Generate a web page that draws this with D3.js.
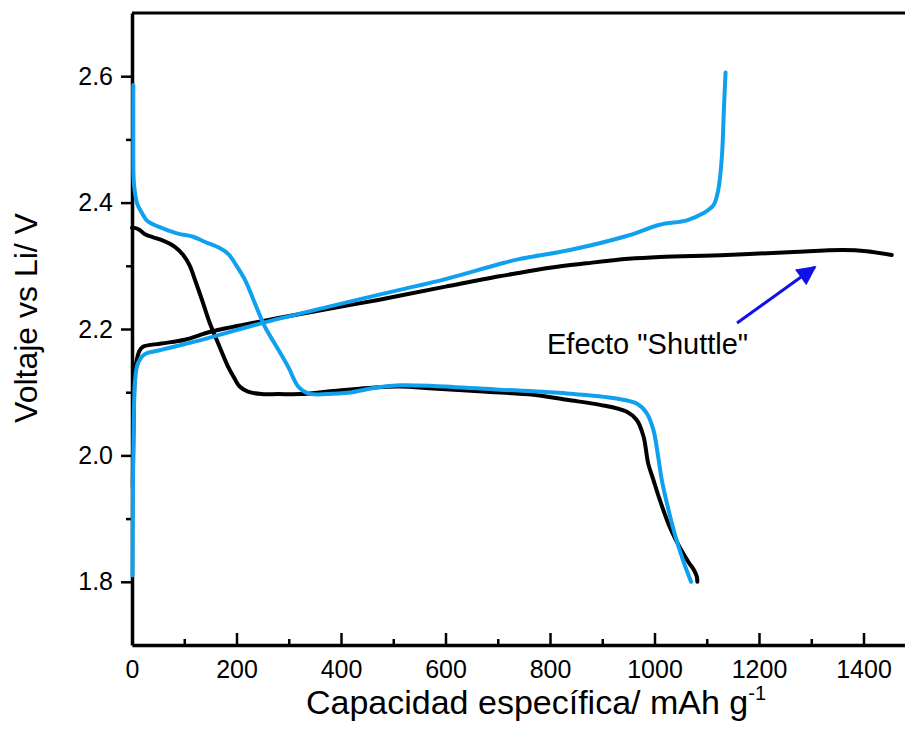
<!DOCTYPE html>
<html>
<head>
<meta charset="utf-8">
<script src="https://cdn.jsdelivr.net/npm/d3@7"></script>
<style>
  body { margin: 0; background: #fff; }
  svg { display: block; font-family: "Liberation Sans", Arial, sans-serif; }
  .axis path, .axis line { stroke: #000; }
</style>
</head>
<body>
<div id="graphic"></div>
<script>
// capacity (mAh/g), voltage (V)
var blackDischarge = [[0,2.360],[5,2.360],[14,2.357],[27,2.349],[56,2.341],[82,2.330],[98,2.317],
  [110,2.301],[123,2.272],[136,2.241],[149,2.209],[165,2.177],[184,2.140],[196,2.122],[206,2.109],
  [222,2.101],[248,2.097],[280,2.097],[323,2.097],[375,2.101],[471,2.108],[513,2.109],[577,2.106],
  [672,2.101],[768,2.096],[832,2.088],[896,2.080],[947,2.069],[966,2.056],[979,2.030],[988,1.987],
  [998,1.961],[1010,1.930],[1030,1.885],[1050,1.852],[1066,1.830],[1076,1.818],[1081,1.808],[1082,1.800]];

var blackCharge = [[1.5,1.95],[3,2.05],[5,2.12],[8,2.146],[14,2.165],[21,2.172],[56,2.177],[101,2.183],
  [152,2.196],[247,2.212],[343,2.227],[471,2.246],[600,2.267],[700,2.283],[743,2.289],[800,2.297],
  [870,2.304],[950,2.311],[1010,2.314],[1138,2.317],[1266,2.322],[1361,2.325],[1406,2.323],[1454,2.317]];

var blueDischarge = [[2.5,2.586],[2.5,2.50],[3,2.44],[5,2.420],[10,2.398],[18,2.385],[28,2.372],
  [37,2.367],[60,2.359],[88,2.351],[117,2.346],[139,2.338],[168,2.328],[185,2.318],[197,2.304],
  [216,2.278],[235,2.241],[254,2.204],[273,2.177],[299,2.140],[318,2.109],[337,2.098],[375,2.097],
  [413,2.099],[471,2.108],[513,2.111],[577,2.110],[704,2.104],[832,2.098],[927,2.090],[966,2.082],
  [985,2.067],[998,2.040],[1007,1.998],[1014,1.961],[1025,1.920],[1040,1.872],[1055,1.833],[1070,1.800]];

var blueCharge = [[1,1.81],[1.5,1.90],[2.5,2.00],[4,2.08],[6,2.12],[11.5,2.146],[24,2.160],[56,2.167],
  [120,2.180],[247,2.209],[375,2.235],[471,2.254],[600,2.279],[700,2.302],[743,2.311],[838,2.325],
  [950,2.348],[1010,2.365],[1062,2.372],[1093,2.383],[1113,2.396],[1122,2.420],[1129,2.473],
  [1133,2.552],[1136,2.606]];

var xTicks = [0, 200, 400, 600, 800, 1000, 1200, 1400];
var xMinorTicks = [100, 300, 500, 700, 900, 1100, 1300, 1500];
var yTicks = [1.8, 2.0, 2.2, 2.4, 2.6];
var yMinorTicks = [1.9, 2.1, 2.3, 2.5];

// arrow: from label to the flat charge tail
var shuttleArrow = [[1158, 2.2095], [1307, 2.298]];
var shuttleLabel = 'Efecto "Shuttle"';

var width = 905,
    height = 740;

var margin = {top: 13, left: 132, bottom: 95};

var svg = d3.select("#graphic")
    .append("svg")
    .attr("width", width)
    .attr("height", height);

var x = d3.scaleLinear()
    .domain([0, 1500])
    .range([margin.left, margin.left + 1500 * 0.5225]);

var y = d3.scaleLinear()
    .domain([1.7, 2.7])
    .range([height - margin.bottom, margin.top]);

// top frame line
svg.append("line")
    .attr("x1", x(0)).attr("x2", x(1500))
    .attr("y1", y(2.7)).attr("y2", y(2.7))
    .attr("stroke", "#000").attr("stroke-width", 3);
svg.append("line")
    .attr("x1", x(1500)).attr("x2", x(1500))
    .attr("y1", y(2.7)).attr("y2", y(1.7))
    .attr("stroke", "#000").attr("stroke-width", 3);

// minor ticks
svg.append("g")
    .attr("class", "axis")
    .attr("transform", "translate(0," + y(1.7) + ")")
    .call(d3.axisBottom(x).tickValues(xMinorTicks).tickSizeInner(-6).tickSizeOuter(0).tickFormat(""))
    .call(g => g.select(".domain").remove())
    .selectAll("line").attr("stroke-width", 2.5);

svg.append("g")
    .attr("class", "axis")
    .attr("transform", "translate(" + x(0) + ",0)")
    .call(d3.axisLeft(y).tickValues(yMinorTicks).tickSizeInner(6).tickSizeOuter(0).tickFormat(""))
    .call(g => g.select(".domain").remove())
    .selectAll("line").attr("stroke-width", 2.5);

// major axes
var xAxis = svg.append("g")
    .attr("class", "axis")
    .attr("transform", "translate(0," + y(1.7) + ")")
    .call(d3.axisBottom(x).tickValues(xTicks).tickFormat(d3.format("d"))
      .tickSizeInner(-12).tickSizeOuter(0).tickPadding(15));

var yAxis = svg.append("g")
    .attr("class", "axis")
    .attr("transform", "translate(" + x(0) + ",0)")
    .call(d3.axisLeft(y).tickValues(yTicks).tickFormat(d3.format(".1f"))
      .tickSizeInner(11).tickSizeOuter(0).tickPadding(8));

[xAxis, yAxis].forEach(function(a) {
  a.attr("font-size", 25)
   .attr("font-family", "'Liberation Sans', Arial, sans-serif");
  a.select(".domain").attr("stroke-width", 3.5);
  a.selectAll(".tick line").attr("stroke-width", 2.5);
  a.selectAll(".tick text").attr("fill", "#000");
});

// curves
var line = d3.line()
    .x(d => x(d[0]))
    .y(d => y(d[1]))
    .curve(d3.curveCatmullRom.alpha(0.5));

var series = [
  {data: blackCharge, color: "#000"},
  {data: blackDischarge, color: "#000"},
  {data: blueCharge, color: "#0fa0f0"},
  {data: blueDischarge, color: "#0fa0f0"}
];

svg.append("g")
    .selectAll("path")
    .data(series)
    .enter().append("path")
    .attr("d", d => line(d.data))
    .attr("fill", "none")
    .attr("stroke", d => d.color)
    .attr("stroke-width", 4)
    .attr("stroke-linejoin", "round")
    .attr("stroke-linecap", "round");

// annotation
svg.append("defs").append("marker")
    .attr("id", "head")
    .attr("viewBox", "0 0 10 10")
    .attr("refX", 9).attr("refY", 5)
    .attr("markerWidth", 8).attr("markerHeight", 6.5)
    .attr("markerUnits", "strokeWidth")
    .attr("orient", "auto")
    .append("path")
    .attr("d", "M0,0 L10,5 L0,10 Z")
    .attr("fill", "#1010e8");

svg.append("line")
    .attr("x1", x(shuttleArrow[0][0])).attr("y1", y(shuttleArrow[0][1]))
    .attr("x2", x(shuttleArrow[1][0])).attr("y2", y(shuttleArrow[1][1]))
    .attr("stroke", "#1010e8")
    .attr("stroke-width", 3)
    .attr("marker-end", "url(#head)");

svg.append("text")
    .attr("x", 547)
    .attr("y", 354)
    .attr("font-size", 29)
    .text(shuttleLabel);

// axis titles
var xt = svg.append("text")
    .attr("x", 536)
    .attr("y", 714)
    .attr("text-anchor", "middle")
    .attr("font-size", 34);
xt.append("tspan").text("Capacidad específica/ mAh g");
xt.append("tspan").attr("font-size", 20).attr("dy", -14).text("-1");

svg.append("text")
    .attr("transform", "translate(37,318) rotate(-90)")
    .attr("text-anchor", "middle")
    .attr("font-size", 32)
    .text("Voltaje vs Li/ V");
</script>
</body>
</html>
